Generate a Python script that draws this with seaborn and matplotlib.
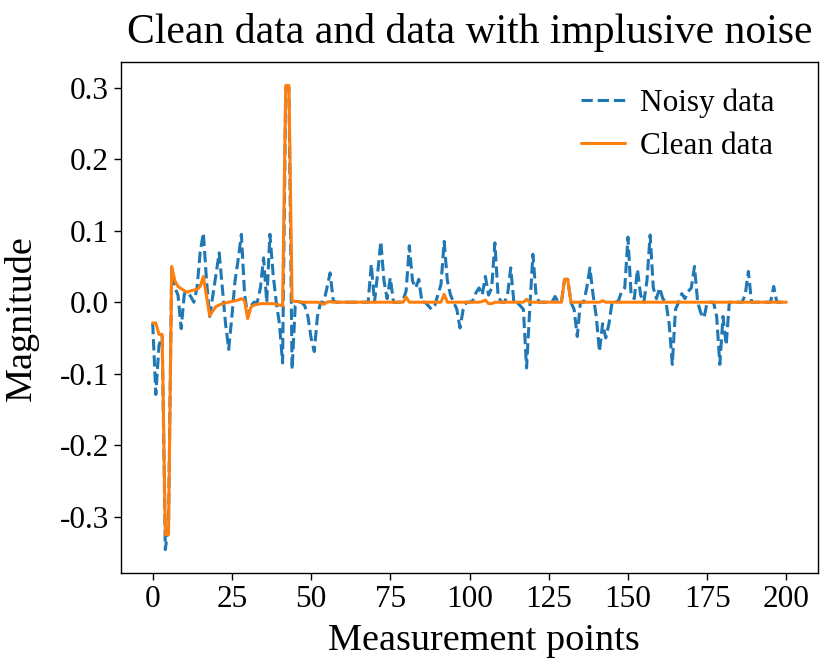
import numpy as np
import matplotlib
matplotlib.use("Agg")
from matplotlib import pyplot as plt
import seaborn as sns

clean_data = [
    -0.029, -0.029, -0.045, -0.045, -0.325, -0.325, 0.050, 0.030, 0.022, 0.019,
    0.016, 0.014, 0.016, 0.017, 0.018, 0.022, 0.036, 0.008, -0.019, -0.012,
    -0.006, -0.004, -0.002, -0.001, 0.000, 0.001, 0.002, 0.003, 0.005, 0.002,
    -0.023, -0.007, -0.004, -0.003, -0.002, -0.002, -0.002, -0.002, -0.002, -0.003,
    -0.004, -0.005, 0.303, 0.303, 0.002, 0.001, 0.001, 0.000, 0.000, 0.000,
    0.000, 0.000, 0.000, -0.001, -0.003, 0.000, 0.001, 0.000, 0.000, 0.000,
    0.000, 0.000, 0.000, 0.000, 0.000, 0.000, 0.000, 0.000, 0.000, 0.000,
    0.000, 0.000, 0.000, 0.000, 0.000, 0.000, 0.000, 0.000, 0.000, 0.000,
    0.007, 0.000, 0.000, 0.000, 0.000, 0.000, 0.000, 0.000, 0.000, 0.000,
    0.000, 0.000, 0.011, 0.000, 0.000, 0.000, 0.000, 0.000, 0.000, 0.000,
    0.000, 0.000, 0.000, 0.000, 0.001, 0.003, -0.002, -0.002, 0.000, 0.000,
    0.000, 0.000, 0.000, 0.000, 0.000, 0.000, 0.000, 0.000, 0.004, 0.000,
    0.000, 0.000, 0.000, 0.000, 0.000, 0.000, 0.000, 0.000, 0.000, 0.000,
    0.032, 0.032, 0.000, 0.000, 0.000, 0.000, 0.000, 0.000, 0.000, 0.000,
    0.000, 0.000, 0.002, 0.000, 0.000, 0.000, 0.000, 0.000, 0.000, 0.000,
    0.000, 0.000, 0.000, 0.000, 0.000, 0.000, 0.000, 0.000, 0.000, 0.000,
    0.000, 0.000, 0.000, 0.000, 0.000, 0.000, 0.000, 0.000, 0.000, 0.000,
    0.000, 0.000, 0.000, 0.000, 0.000, 0.000, 0.000, 0.000, 0.000, 0.000,
    0.000, 0.000, 0.000, 0.000, 0.000, 0.000, 0.000, 0.000, 0.000, 0.000,
    0.000, 0.000, 0.000, 0.000, 0.000, 0.000, 0.000, 0.000, 0.000, 0.000,
    0.000,
]

noisy_data = [
    -0.029, -0.129, -0.060, -0.048, -0.346, -0.310, 0.048, 0.020, 0.010, -0.037,
    0.012, 0.014, 0.008, 0.000, 0.020, 0.070, 0.097, 0.030, -0.020, 0.010,
    0.040, 0.069, 0.020, -0.030, -0.066, -0.020, 0.030, 0.060, 0.095, 0.012,
    -0.020, -0.005, 0.000, 0.000, 0.020, 0.062, 0.000, 0.095, 0.040, 0.000,
    -0.030, -0.085, 0.300, 0.300, -0.094, -0.005, 0.000, 0.000, -0.005, -0.020,
    -0.050, -0.069, -0.020, 0.000, 0.000, 0.020, 0.041, 0.002, 0.000, 0.000,
    0.000, 0.000, 0.000, 0.000, 0.000, 0.000, 0.000, 0.000, 0.000, 0.053,
    0.000, 0.040, 0.085, 0.030, 0.005, 0.034, 0.000, 0.000, 0.000, 0.002,
    0.016, 0.079, 0.030, 0.020, 0.032, 0.000, 0.000, -0.005, -0.010, -0.005,
    0.010, 0.025, 0.085, 0.030, 0.010, 0.000, -0.010, -0.036, -0.010, 0.000,
    0.000, 0.002, 0.013, 0.020, 0.010, 0.036, 0.010, 0.020, 0.083, 0.010,
    0.000, 0.000, 0.010, 0.048, 0.000, 0.000, -0.005, -0.010, -0.092, -0.010,
    0.067, 0.010, 0.000, 0.000, 0.000, 0.000, 0.000, 0.008, 0.000, 0.000,
    0.032, 0.032, 0.000, -0.010, -0.048, 0.000, 0.000, 0.020, 0.048, 0.010,
    -0.020, -0.069, -0.030, -0.050, -0.030, 0.000, 0.000, 0.002, 0.015, 0.020,
    0.091, 0.010, 0.005, 0.046, 0.010, 0.000, 0.030, 0.094, 0.020, 0.005,
    0.020, 0.005, 0.000, -0.030, -0.087, -0.010, 0.000, 0.012, 0.005, 0.015,
    0.020, 0.050, 0.000, -0.015, -0.022, 0.000, 0.000, 0.000, -0.020, -0.087,
    -0.020, -0.060, 0.000, 0.000, 0.000, 0.000, 0.000, 0.010, 0.043, 0.000,
    0.000, 0.000, 0.000, 0.000, 0.000, 0.000, 0.022, 0.000, 0.000, 0.000,
    0.000,
]

points = np.arange(len(clean_data))

sns.set_theme(style="ticks")
plt.rcParams["font.family"] = ["Liberation Serif", "DejaVu Serif"]
plt.rcParams["axes.unicode_minus"] = False
plt.rcParams["text.color"] = "black"
plt.rcParams["axes.labelcolor"] = "black"

fig, ax = plt.subplots(figsize=(8.23, 6.63), dpi=100)
fig.subplots_adjust(left=0.147, right=0.994, top=0.906, bottom=0.136)

sns.lineplot(x=points, y=noisy_data, ax=ax, color="#1f77b4", linestyle="--",
             linewidth=2.2, label="Noisy data")
sns.lineplot(x=points, y=clean_data, ax=ax, color="#ff7f0e",
             linewidth=2.2, label="Clean data")

ax.set_xticks([0, 25, 50, 75, 100, 125, 150, 175, 200])
ax.set_yticks([-0.3, -0.2, -0.1, 0.0, 0.1, 0.2, 0.3])
ax.tick_params(labelsize=22.5, length=5, width=1, colors="black")
for spine in ax.spines.values():
    spine.set_color("black")
    spine.set_linewidth(1)

ax.set_xlabel("Measurement points", fontsize=27.5, x=0.521, labelpad=7)
ax.set_ylabel("Magnitude", fontsize=27.5, labelpad=15)
ax.set_title("Clean data and data with implusive noise", fontsize=30, pad=14,
             color="black")
ax.legend(loc="upper right", bbox_to_anchor=(0.956, 0.974), borderaxespad=0,
          frameon=False, fontsize=22.5, handlelength=1.4, handletextpad=0.5,
          labelspacing=0.45)

fig.savefig("out.png", dpi=100)
